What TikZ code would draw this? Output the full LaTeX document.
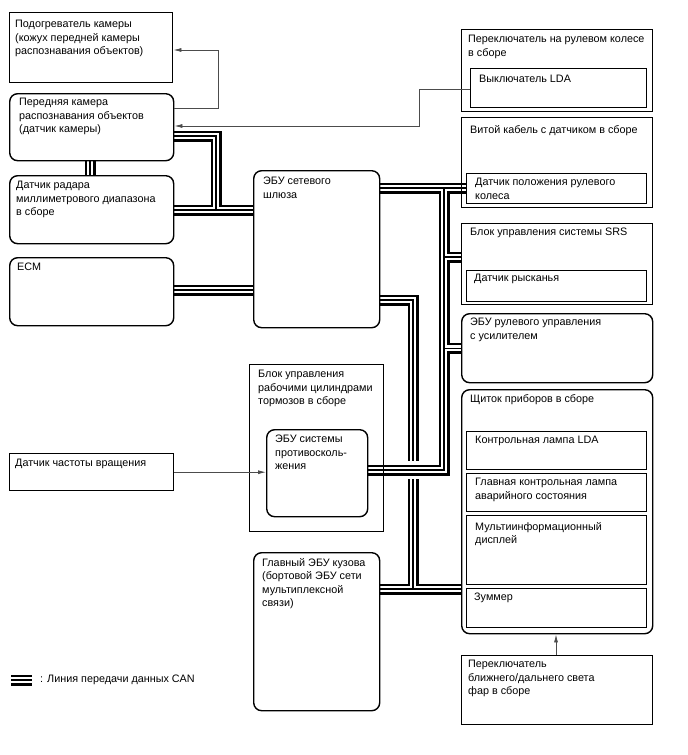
\documentclass[tikz,border=0pt]{standalone}
\usepackage{fontspec}
\setmainfont{Liberation Sans}
\usetikzlibrary{arrows.meta,calc,backgrounds}

\begin{document}
\begin{tikzpicture}[
    x=1pt,y=-1pt,
    every node/.style={font=\fontsize{10.8}{13.5}\selectfont},
    blk/.style={draw,line width=1.4pt,anchor=north west,inner sep=0pt},
    rblk/.style={blk,rounded corners=8pt},
    txt/.style={anchor=north west,align=left,inner sep=0pt},
    can/.style={line width=11pt,draw=black,line join=miter,
                postaction={draw=white,line width=6pt},
                postaction={draw=black,line width=1.4pt}},
    sig/.style={draw=black!70,line width=0.8pt,-{Latex[length=8pt,width=4pt]}}
  ]
  \useasboundingbox (0,0) rectangle (688,755);

  % left column
  \node[blk,minimum width=163,minimum height=70]  (heat)  at (9,12)  {};
  \node[rblk,minimum width=164,minimum height=67] (cam)   at (9,93)  {};
  \node[rblk,minimum width=164,minimum height=68] (radar) at (9,175) {};
  \node[rblk,minimum width=164,minimum height=68] (ecm)   at (9,257) {};
  \node[blk,minimum width=164,minimum height=37]  (speed) at (9,453) {};

  % middle column
  \node[rblk,minimum width=126,minimum height=157] (gw)   at (253,170) {};
  \node[blk,minimum width=134,minimum height=167]  (brk)  at (249,364) {};
  \node[rblk,minimum width=101,minimum height=87]  (vsc)  at (266,429) {};
  \node[rblk,minimum width=126,minimum height=158] (body) at (253,552) {};

  % right column
  \node[blk,minimum width=191,minimum height=82]   (sws)    at (461,29)  {};
  \node[blk,minimum width=176,minimum height=39]   (lda)    at (470,68)  {};
  \node[blk,minimum width=191,minimum height=90]   (spiral) at (461,117) {};
  \node[blk,minimum width=180,minimum height=30]   (str)    at (466,173) {};
  \node[blk,minimum width=191,minimum height=81]   (srs)    at (461,223) {};
  \node[blk,minimum width=180,minimum height=31]   (yaw)    at (466,270) {};
  \node[rblk,minimum width=191,minimum height=69]  (eps)    at (461,313) {};
  \node[rblk,minimum width=191,minimum height=244] (meter)  at (461,389) {};
  \node[blk,minimum width=180,minimum height=38]   (ldal)   at (466,431) {};
  \node[blk,minimum width=180,minimum height=38]   (mw)     at (466,473) {};
  \node[blk,minimum width=180,minimum height=69]   (mid)    at (466,515) {};
  \node[blk,minimum width=180,minimum height=39]   (buz)    at (466,588) {};
  \node[blk,minimum width=191,minimum height=69]   (dim)    at (461,655) {};

  % labels
  \node[txt] (heat-l)   at ([shift={(6pt,-8pt)}]heat.north west)   {Подогреватель камеры\\(кожух передней камеры\\распознавания объектов)};
  \node[txt] (cam-l)    at ([shift={(10pt,-5pt)}]cam.north west)   {Передняя камера\\распознавания объектов\\(датчик камеры)};
  \node[txt] (radar-l)  at ([shift={(7pt,-6pt)}]radar.north west)  {Датчик радара\\миллиметрового диапазона\\в сборе};
  \node[txt] (ecm-l)    at ([shift={(8pt,-6pt)}]ecm.north west)    {ECM};
  \node[txt] (speed-l)  at ([shift={(6pt,-6pt)}]speed.north west)  {Датчик частоты вращения};
  \node[txt] (gw-l)     at ([shift={(10pt,-7pt)}]gw.north west)    {ЭБУ сетевого\\шлюза};
  \node[txt] (brk-l)    at ([shift={(9pt,-6pt)}]brk.north west)    {Блок управления\\рабочими цилиндрами\\тормозов в сборе};
  \node[txt] (vsc-l)    at ([shift={(9pt,-6pt)}]vsc.north west)    {ЭБУ системы\\противосколь-\\жения};
  \node[txt] (body-l)   at ([shift={(9pt,-6pt)}]body.north west)   {Главный ЭБУ кузова\\(бортовой ЭБУ сети\\мультиплексной\\связи)};
  \node[txt] (sws-l)    at ([shift={(7pt,-6pt)}]sws.north west)    {Переключатель на рулевом колесе\\в сборе};
  \node[txt] (lda-l)    at ([shift={(9pt,-7pt)}]lda.north west)    {Выключатель LDA};
  \node[txt] (spiral-l) at ([shift={(9pt,-8pt)}]spiral.north west) {Витой кабель с датчиком в сборе};
  \node[txt] (str-l)    at ([shift={(9pt,-5pt)}]str.north west)    {Датчик положения рулевого\\колеса};
  \node[txt] (srs-l)    at ([shift={(9pt,-5pt)}]srs.north west)    {Блок управления системы SRS};
  \node[txt] (yaw-l)    at ([shift={(8pt,-4pt)}]yaw.north west)    {Датчик рысканья};
  \node[txt] (eps-l)    at ([shift={(9pt,-5pt)}]eps.north west)    {ЭБУ рулевого управления\\с усилителем};
  \node[txt] (meter-l)  at ([shift={(9pt,-5pt)}]meter.north west)  {Щиток приборов в сборе};
  \node[txt] (ldal-l)   at ([shift={(9pt,-5pt)}]ldal.north west)   {Контрольная лампа LDA};
  \node[txt] (mw-l)     at ([shift={(9pt,-5pt)}]mw.north west)     {Главная контрольная лампа\\аварийного состояния};
  \node[txt] (mid-l)    at ([shift={(9pt,-7pt)}]mid.north west)    {Мультиинформационный\\дисплей};
  \node[txt] (buz-l)    at ([shift={(8pt,-5pt)}]buz.north west)    {Зуммер};
  \node[txt] (dim-l)    at ([shift={(7pt,-5pt)}]dim.north west)    {Переключатель\\ближнего/дальнего света\\фар в сборе};

  % bus corners
  \coordinate (jc) at (216,136);
  \coordinate (jr) at (216,210);
  \coordinate (lk) at (90,168);
  \coordinate (je) at (213,290);
  \coordinate (jt) at (444,188);
  \coordinate (js) at (444,257);
  \coordinate (jb) at (444,470);
  \coordinate (jg) at (413,300);
  \coordinate (jz) at (413,589);

  % CAN lines: one path, so the layers merge at the joints; kept under the boxes
  \begin{pgfonlayer}{background}
  \fill[white] (0,0) rectangle (688,755);
  \draw[can]
    (cam.east |- jc) -- (jc) -- (jr)
    (radar.east |- jr) -- (gw.west |- jr)
    (cam.south -| lk) -- (radar.north -| lk)
    (ecm.east |- je) -- (gw.west |- je)
    (gw.east |- jt) -- (str.west |- jt)
    (vsc.east |- jb) -- (jb) -- (jt)
    (js) -- (srs.west |- js)
    (jb |- eps.west) -- (eps.west)
    (gw.east |- jg) -- (jg) -- ($(jg |- jb)+(0,-9)$)
    ($(jg |- jb)+(0,9)$) -- (jz)
    (body.east |- jz) -- (meter.west |- jz);
  \end{pgfonlayer}

  % signal lines
  \coordinate (ac) at (218,108);
  \coordinate (ah) at (218,50);
  \coordinate (al1) at (419,89);
  \coordinate (al2) at (419,126);
  \coordinate (ad) at (556,640);
  \draw[sig] (cam.east |- ac) -- (ac) -- (ah) -- (heat.east |- ah);
  \draw[sig] (lda.west |- al1) -- (al1) -- (al2) -- (cam.east |- al2);
  \draw[sig] (speed.east) -- (vsc.west |- speed.east);
  \draw[sig] (dim.north -| ad) -- (meter.south -| ad);

  % legend
  \node[txt,anchor=west] (leg) at (40,680) {: Линия передачи данных CAN};
  \coordinate (lg) at (11,680);
  \draw[can] (lg) -- ([xshift=-8pt]leg.west);
\end{tikzpicture}
\end{document}
